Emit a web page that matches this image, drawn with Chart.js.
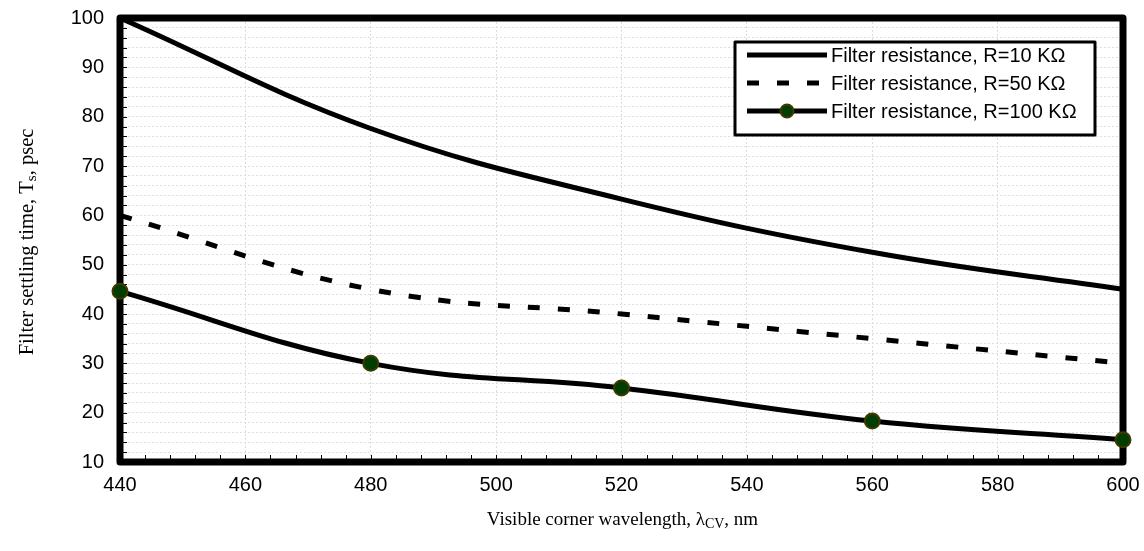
<!DOCTYPE html>
<html>
<head>
<meta charset="utf-8">
<script src="https://cdn.jsdelivr.net/npm/chart.js@4/dist/chart.umd.min.js"></script>
<style>
    html, body { margin: 0; padding: 0; background: #fff; }
    #wrap { width: 1144px; height: 551px; }
</style>
</head>
<body>
<div id="wrap"><canvas id="chart" width="1144" height="551"></canvas></div>
<script>
// =============================================
// Data
// =============================================
const wavelengths = [440, 480, 520, 560, 600];
const r10Values = [100, 77.6, 63.3, 52.5, 45];
const r50Values = [60, 45, 40, 35, 30];
const r100Values = [44.6, 30, 25, 18.3, 14.5];
const seriesLabels = [
    'Filter resistance, R=10 KΩ',
    'Filter resistance, R=50 KΩ',
    'Filter resistance, R=100 KΩ'
];
const xTicks = [440, 460, 480, 500, 520, 540, 560, 580, 600];
const yTicks = [10, 20, 30, 40, 50, 60, 70, 80, 90, 100];

function toPoints(values) {
    return wavelengths.map((x, i) => ({ x: x, y: values[i] }));
}

const ARIAL = '"Liberation Sans", Arial, sans-serif';
const TIMES = '"Liberation Serif", "Times New Roman", serif';

// draw "main + subscript + end" starting at x, baseline y (current transform)
function drawSubText(ctx, parts, size, x, y) {
    let cx = x;
    parts.forEach(p => {
        ctx.font = (p.sub ? Math.round(size * 0.72) : size) + 'px ' + TIMES;
        ctx.fillText(p.t, cx, y + (p.sub ? size * 0.17 : 0));
        cx += ctx.measureText(p.t).width;
    });
}
function measureSubText(ctx, parts, size) {
    let w = 0;
    parts.forEach(p => {
        ctx.font = (p.sub ? Math.round(size * 0.72) : size) + 'px ' + TIMES;
        w += ctx.measureText(p.t).width;
    });
    return w;
}

// =============================================
// Frame, inside ticks, axis titles, legend
// =============================================
const framePlugin = {
    id: 'frame',
    beforeDatasetsDraw(chart) {
        const { ctx, chartArea: a, scales } = chart;
        ctx.save();
        ctx.strokeStyle = '#000';
        ctx.lineWidth = 1;
        // minor ticks inside, x every 4 nm
        for (let v = 440; v <= 600; v += 4) {
            const px = Math.round(scales.x.getPixelForValue(v)) + 0.5;
            ctx.beginPath();
            ctx.moveTo(px, a.bottom);
            ctx.lineTo(px, a.bottom - 7);
            ctx.stroke();
        }
        // minor ticks inside, y every 2
        for (let v = 10; v <= 100; v += 2) {
            const py = Math.round(scales.y.getPixelForValue(v)) + 0.5;
            ctx.beginPath();
            ctx.moveTo(a.left, py);
            ctx.lineTo(a.left + 7, py);
            ctx.stroke();
        }
        ctx.lineWidth = 7;
        ctx.lineJoin = 'round';
        ctx.strokeRect(a.left, a.top, a.right - a.left, a.bottom - a.top);
        ctx.restore();
    },
    afterDraw(chart) {
        const { ctx, chartArea: a } = chart;
        ctx.save();
        ctx.fillStyle = '#000';
        ctx.textBaseline = 'alphabetic';

        // x axis title with subscript
        const xParts = [{ t: 'Visible corner wavelength, λ' }, { t: 'CV', sub: true }, { t: ', nm' }];
        const xw = measureSubText(ctx, xParts, 19);
        drawSubText(ctx, xParts, 19, (a.left + a.right) / 2 - xw / 2 + 1, 525);

        // y axis title with subscript (rotated)
        ctx.save();
        ctx.translate(33, (a.top + a.bottom) / 2 + 2);
        ctx.rotate(-Math.PI / 2);
        const yParts = [{ t: 'Filter settling time, T' }, { t: 's', sub: true }, { t: ', psec' }];
        const yw = measureSubText(ctx, yParts, 20.5);
        drawSubText(ctx, yParts, 20.5, -yw / 2, 0);
        ctx.restore();

        // legend box
        const box = { x: 735, y: 42, w: 360, h: 93 };
        ctx.fillStyle = '#fff';
        ctx.fillRect(box.x, box.y, box.w, box.h);
        ctx.strokeStyle = '#000';
        ctx.lineWidth = 3;
        ctx.lineJoin = 'round';
        ctx.strokeRect(box.x, box.y, box.w, box.h);

        ctx.font = '20px ' + ARIAL;
        ctx.textBaseline = 'middle';
        chart.data.datasets.forEach((ds, i) => {
            const cy = box.y + 13 + i * 28;
            const lx0 = box.x + 12, lx1 = box.x + 92;
            ctx.strokeStyle = '#000';
            ctx.lineWidth = 5;
            ctx.lineCap = 'butt';
            ctx.setLineDash(ds.borderDash || []);
            ctx.lineDashOffset = 0;
            ctx.beginPath();
            ctx.moveTo(lx0, cy);
            ctx.lineTo(lx1, cy);
            ctx.stroke();
            ctx.setLineDash([]);
            if (ds.showMarker) {
                ctx.beginPath();
                ctx.arc((lx0 + lx1) / 2, cy, 6.5, 0, Math.PI * 2);
                ctx.fillStyle = ds.pointBackgroundColor;
                ctx.fill();
                ctx.lineWidth = 2;
                ctx.strokeStyle = ds.pointBorderColor;
                ctx.stroke();
            }
            ctx.fillStyle = '#000';
            ctx.fillText(ds.label, lx1 + 4, cy + 1);
        });
        ctx.restore();
    }
};

// =============================================
// Chart
// =============================================
new Chart(document.getElementById('chart').getContext('2d'), {
    type: 'line',
    data: {
        datasets: [{
            label: seriesLabels[0],
            data: toPoints(r10Values),
            borderColor: '#000',
            borderWidth: 5,
            pointRadius: 0,
            tension: 0.4,
            clip: false
        }, {
            label: seriesLabels[1],
            data: toPoints(r50Values),
            borderColor: '#000',
            borderWidth: 5,
            borderDash: [12, 18],
            borderCapStyle: 'butt',
            pointRadius: 0,
            tension: 0.4,
            clip: false
        }, {
            label: seriesLabels[2],
            data: toPoints(r100Values),
            borderColor: '#000',
            borderWidth: 5,
            pointRadius: 7.5,
            pointBorderWidth: 2,
            pointBackgroundColor: '#003d00',
            pointBorderColor: '#403a00',
            showMarker: true,
            tension: 0.4,
            clip: false
        }]
    },
    options: {
        responsive: false,
        animation: false,
        events: [],
        layout: { padding: { left: 0, top: 18, right: 21, bottom: 0 } },
        plugins: {
            legend: { display: false },
            tooltip: { enabled: false }
        },
        scales: {
            x: {
                type: 'linear',
                min: 440,
                max: 600,
                afterBuildTicks: scale => { scale.ticks = xTicks.map(v => ({ value: v })); },
                afterFit: scale => {
                    scale.height = 89;
                    scale.paddingLeft = 0;
                    scale.paddingRight = 0;
                },
                ticks: {
                    color: '#000',
                    padding: 11,
                    autoSkip: false,
                    maxRotation: 0,
                    font: { family: ARIAL, size: 20 }
                },
                grid: {
                    color: '#dcdcdc',
                    lineWidth: 1,
                    drawTicks: false
                },
                border: { display: false, dash: [2, 2] }
            },
            y: {
                min: 10,
                max: 100,
                afterBuildTicks: scale => {
                    const t = [];
                    for (let v = 10; v <= 100; v += 2) t.push({ value: v });
                    scale.ticks = t;
                },
                afterFit: scale => {
                    scale.width = 120;
                    scale.paddingTop = 0;
                    scale.paddingBottom = 0;
                },
                ticks: {
                    color: '#000',
                    padding: 16,
                    autoSkip: false,
                    font: { family: ARIAL, size: 20 },
                    callback: v => yTicks.includes(v) ? String(v) : ''
                },
                grid: {
                    color: '#e0e0e0',
                    lineWidth: 1,
                    drawTicks: false
                },
                border: { display: false, dash: [2, 2] }
            }
        }
    },
    plugins: [framePlugin]
});
</script>
</body>
</html>
